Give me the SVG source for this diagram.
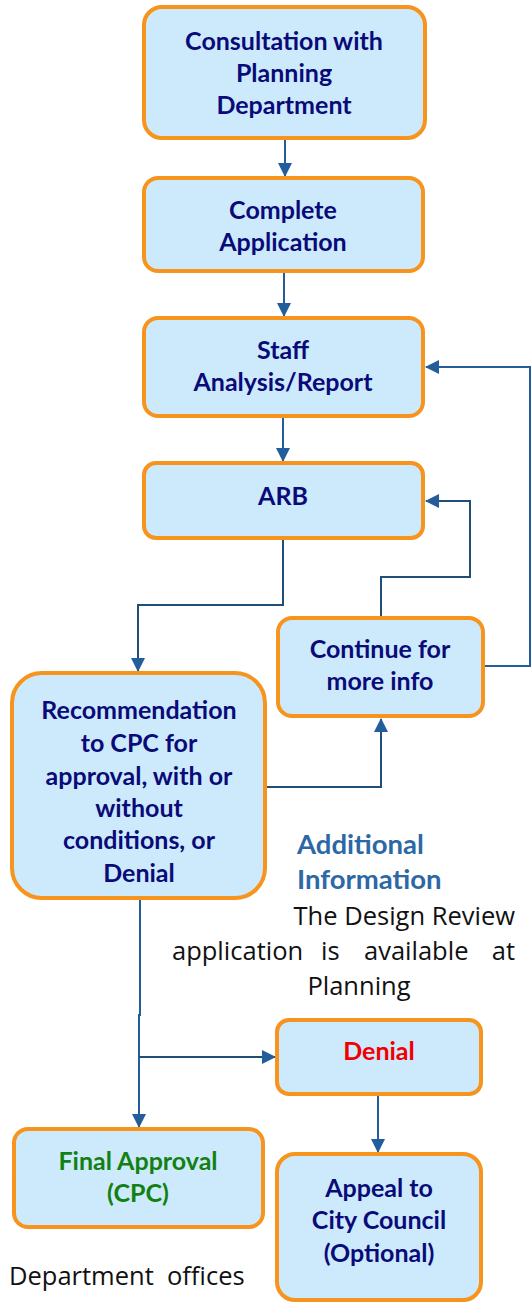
<svg xmlns="http://www.w3.org/2000/svg" width="531" height="1302" viewBox="0 0 531 1302">
<style>
.box{fill:#cceafc;stroke:#f7941d;stroke-width:4}
.t{font-family:Lato,"Liberation Sans",sans-serif;font-weight:bold;font-size:25px;fill:#0a0a78;text-anchor:middle}
.c{fill:none;stroke:#245d9b;stroke-width:2}
.body{font-family:"Open Sans","Liberation Sans",sans-serif;font-size:25.5px;fill:#111;white-space:pre}
.hd{font-family:Lato,"Liberation Sans",sans-serif;font-weight:bold;font-size:27.5px;fill:#2c68a6}
</style>
<defs>
<marker id="ah2" markerWidth="14" markerHeight="14" refX="13" refY="7" orient="auto" markerUnits="userSpaceOnUse">
<path d="M0,0 L14,7 L0,14 Z" fill="#245d9b"/>
</marker>
</defs>
<g id="connectors">
<path class="c" d="M285,138 V176" marker-end="url(#ah2)"/>
<path class="c" d="M284,271 V316" marker-end="url(#ah2)"/>
<path class="c" d="M283,416 V461" marker-end="url(#ah2)"/>
<path class="c" d="M283,538 V605 H138 V671" marker-end="url(#ah2)" style="stroke:#1f4e79"/>
<path class="c" d="M266,787 H381 V719" marker-end="url(#ah2)" style="stroke:#1f4e79"/>
<path class="c" d="M381,617 V577 H470 V501 H426" marker-end="url(#ah2)" style="stroke:#1f4e79"/>
<path class="c" d="M483,666 H530 V367 H426" marker-end="url(#ah2)"/>
<path class="c" d="M140,898 V1015 H139 V1127" marker-end="url(#ah2)"/>
<path class="c" d="M139,1057 H275" marker-end="url(#ah2)" style="stroke:#1f4e79"/>
<path class="c" d="M378,1094 V1152" marker-end="url(#ah2)"/>
</g>
<g id="n1"><rect class="box" x="144" y="7" width="281" height="131" rx="18"/>
<text class="t" x="284" y="50">Consultation with</text>
<text class="t" x="284" y="82">Planning</text>
<text class="t" x="284" y="114">Department</text></g>
<g id="n2"><rect class="box" x="144" y="178" width="279" height="93" rx="14"/>
<text class="t" x="283" y="219">Complete</text>
<text class="t" x="283" y="251">Application</text></g>
<g id="n3"><rect class="box" x="144" y="318" width="279" height="98" rx="14"/>
<text class="t" x="283" y="359">Staff</text>
<text class="t" x="283" y="391">Analysis/Report</text></g>
<g id="n4"><rect class="box" x="144" y="463" width="279" height="75" rx="12"/>
<text class="t" x="283" y="505">ARB</text></g>
<g id="n5"><rect class="box" x="12" y="673" width="253" height="225" rx="30"/>
<text class="t" x="139" y="719">Recommendation</text>
<text class="t" x="139" y="752">to CPC for</text>
<text class="t" x="139" y="785">approval, with or</text>
<text class="t" x="139" y="817">without</text>
<text class="t" x="139" y="849">conditions, or</text>
<text class="t" x="139" y="882">Denial</text></g>
<g id="n6"><rect class="box" x="278" y="618" width="205" height="98" rx="14"/>
<text class="t" x="380" y="658">Continue for</text>
<text class="t" x="380" y="690">more info</text></g>
<g id="n7"><rect class="box" x="277" y="1020" width="204" height="74" rx="12"/>
<text class="t" x="379" y="1060" style="fill:#f00000">Denial</text></g>
<g id="n8"><rect class="box" x="14" y="1129" width="249" height="98" rx="14"/>
<text class="t" x="138" y="1170" style="fill:#138013">Final Approval</text>
<text class="t" x="138" y="1202" style="fill:#138013">(CPC)</text></g>
<g id="n9"><rect class="box" x="277" y="1154" width="204" height="146" rx="18"/>
<text class="t" x="379" y="1197">Appeal to</text>
<text class="t" x="379" y="1229">City Council</text>
<text class="t" x="379" y="1262">(Optional)</text></g>
<g id="info">
<text class="hd" x="297" y="854">Additional</text>
<text class="hd" x="297" y="889">Information</text>
<text class="body" x="515" y="925" text-anchor="end">The Design Review</text>
<text class="body" x="172" y="960">application</text>
<text class="body" x="321" y="960">is</text>
<text class="body" x="364" y="960">available</text>
<text class="body" x="515" y="960" text-anchor="end">at</text>
<text class="body" x="359" y="995" text-anchor="middle">Planning</text>
<text class="body" x="9" y="1285">Department  offices</text>
</g>
</svg>
